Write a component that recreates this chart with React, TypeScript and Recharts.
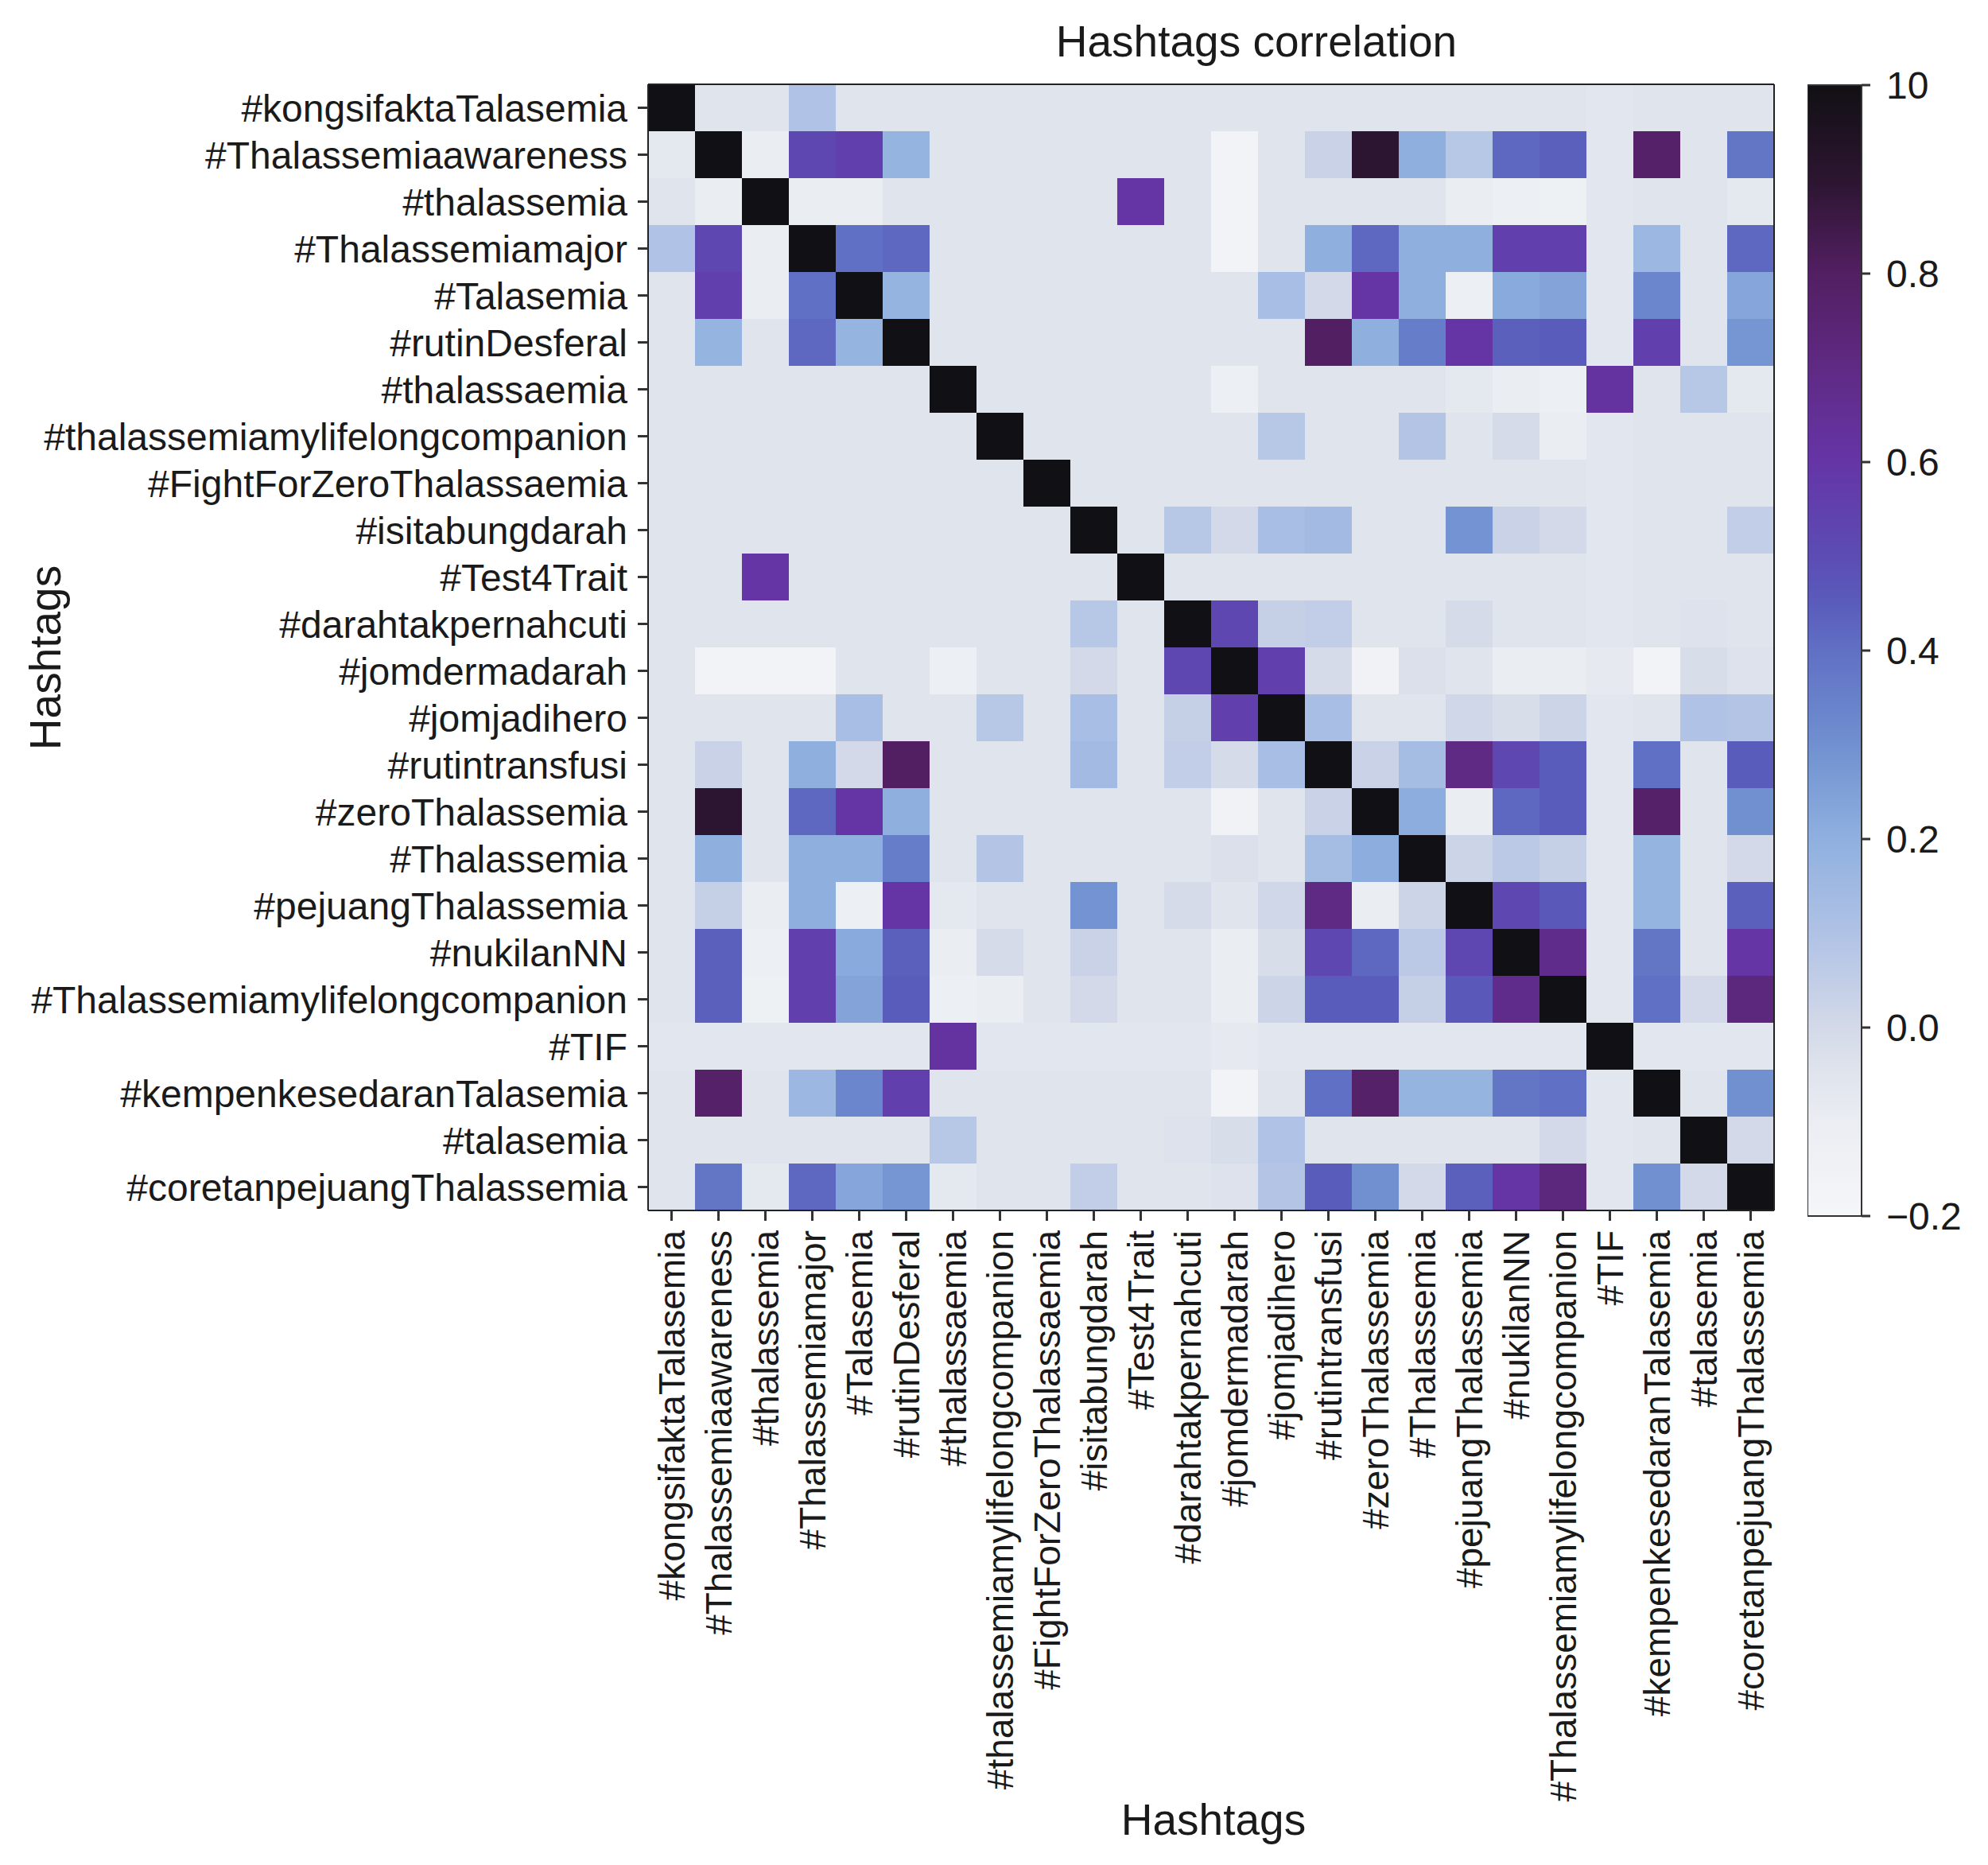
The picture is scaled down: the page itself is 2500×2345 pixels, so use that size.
import React from 'react';
import { BarChart, Bar, XAxis, YAxis, Cell } from 'recharts';

const FONT = '"Liberation Sans", Arial, Helvetica, sans-serif';
const INK = '#1a1a1a';

const hashtags = [
  '#kongsifaktaTalasemia',
  '#Thalassemiaawareness',
  '#thalassemia',
  '#Thalassemiamajor',
  '#Talasemia',
  '#rutinDesferal',
  '#thalassaemia',
  '#thalassemiamylifelongcompanion',
  '#FightForZeroThalassaemia',
  '#isitabungdarah',
  '#Test4Trait',
  '#darahtakpernahcuti',
  '#jomdermadarah',
  '#jomjadihero',
  '#rutintransfusi',
  '#zeroThalassemia',
  '#Thalassemia',
  '#pejuangThalassemia',
  '#nukilanNN',
  '#Thalassemiamylifelongcompanion',
  '#TIF',
  '#kempenkesedaranTalasemia',
  '#talasemia',
  '#coretanpejuangThalassemia',
];

// correlation values, one row per hashtag (same order as hashtags)
const corr: number[][] = [
  [1, -0.05, -0.05, 0.1, -0.05, -0.05, -0.05, -0.05, -0.05, -0.05, -0.05, -0.05, -0.05, -0.05, -0.05, -0.05, -0.05, -0.05, -0.05, -0.05, -0.06, -0.05, -0.05, -0.05],
  [-0.07, 1, -0.1, 0.52, 0.55, 0.18, -0.05, -0.05, -0.05, -0.05, -0.05, -0.05, -0.17, -0.05, 0.03, 0.9, 0.2, 0.08, 0.42, 0.44, -0.06, 0.78, -0.05, 0.38],
  [-0.05, -0.1, 1, -0.1, -0.1, -0.05, -0.05, -0.05, -0.05, -0.05, 0.6, -0.05, -0.17, -0.05, -0.05, -0.05, -0.05, -0.1, -0.12, -0.14, -0.06, -0.05, -0.05, -0.07],
  [0.1, 0.52, -0.1, 1, 0.4, 0.42, -0.05, -0.05, -0.05, -0.05, -0.05, -0.05, -0.17, -0.05, 0.2, 0.42, 0.2, 0.2, 0.55, 0.55, -0.06, 0.16, -0.05, 0.42],
  [-0.05, 0.55, -0.1, 0.4, 1, 0.18, -0.05, -0.05, -0.05, -0.05, -0.05, -0.05, -0.05, 0.12, 0.0, 0.6, 0.2, -0.12, 0.22, 0.24, -0.06, 0.33, -0.05, 0.23],
  [-0.05, 0.18, -0.05, 0.42, 0.18, 1, -0.05, -0.05, -0.05, -0.05, -0.05, -0.05, -0.05, -0.05, 0.8, 0.2, 0.36, 0.6, 0.44, 0.45, -0.06, 0.55, -0.05, 0.28],
  [-0.05, -0.05, -0.05, -0.05, -0.05, -0.05, 1, -0.05, -0.05, -0.05, -0.05, -0.05, -0.12, -0.05, -0.05, -0.05, -0.05, -0.07, -0.1, -0.12, 0.62, -0.05, 0.08, -0.07],
  [-0.05, -0.05, -0.05, -0.05, -0.05, -0.05, -0.05, 1, -0.05, -0.05, -0.05, -0.05, -0.05, 0.08, -0.05, -0.05, 0.09, -0.05, -0.01, -0.1, -0.06, -0.05, -0.05, -0.05],
  [-0.05, -0.05, -0.05, -0.05, -0.05, -0.05, -0.05, -0.05, 1, -0.05, -0.05, -0.05, -0.05, -0.05, -0.05, -0.05, -0.05, -0.05, -0.05, -0.05, -0.06, -0.05, -0.05, -0.05],
  [-0.05, -0.05, -0.05, -0.05, -0.05, -0.05, -0.05, -0.05, -0.05, 1, -0.05, 0.08, 0.0, 0.12, 0.14, -0.05, -0.05, 0.29, 0.03, 0.0, -0.06, -0.05, -0.05, 0.05],
  [-0.05, -0.05, 0.6, -0.05, -0.05, -0.05, -0.05, -0.05, -0.05, -0.05, 1, -0.05, -0.05, -0.05, -0.05, -0.05, -0.05, -0.05, -0.05, -0.05, -0.06, -0.05, -0.05, -0.05],
  [-0.05, -0.05, -0.05, -0.05, -0.05, -0.05, -0.05, -0.05, -0.05, 0.08, -0.05, 1, 0.52, 0.04, 0.05, -0.05, -0.05, -0.01, -0.05, -0.05, -0.06, -0.05, -0.04, -0.05],
  [-0.05, -0.17, -0.17, -0.17, -0.05, -0.05, -0.12, -0.05, -0.05, 0.0, -0.05, 0.52, 1, 0.55, -0.01, -0.15, -0.03, -0.05, -0.1, -0.1, -0.08, -0.17, -0.02, -0.04],
  [-0.05, -0.05, -0.05, -0.05, 0.12, -0.05, -0.05, 0.08, -0.05, 0.12, -0.05, 0.04, 0.55, 1, 0.12, -0.05, -0.05, 0.01, -0.02, 0.02, -0.06, -0.05, 0.1, 0.09],
  [-0.05, 0.03, -0.05, 0.2, 0.0, 0.8, -0.05, -0.05, -0.05, 0.14, -0.05, 0.05, -0.01, 0.12, 1, 0.03, 0.13, 0.7, 0.52, 0.45, -0.06, 0.4, -0.05, 0.45],
  [-0.05, 0.9, -0.05, 0.42, 0.6, 0.2, -0.05, -0.05, -0.05, -0.05, -0.05, -0.05, -0.15, -0.05, 0.03, 1, 0.21, -0.1, 0.42, 0.45, -0.06, 0.78, -0.05, 0.3],
  [-0.05, 0.2, -0.05, 0.2, 0.2, 0.36, -0.05, 0.09, -0.05, -0.05, -0.05, -0.05, -0.03, -0.05, 0.13, 0.21, 1, 0.02, 0.07, 0.04, -0.06, 0.18, -0.05, 0.0],
  [-0.05, 0.04, -0.1, 0.2, -0.12, 0.6, -0.07, -0.05, -0.05, 0.29, -0.05, -0.01, -0.05, 0.01, 0.7, -0.1, 0.02, 1, 0.52, 0.46, -0.06, 0.18, -0.05, 0.44],
  [-0.05, 0.44, -0.12, 0.55, 0.22, 0.44, -0.1, -0.01, -0.05, 0.03, -0.05, -0.05, -0.1, -0.02, 0.52, 0.42, 0.07, 0.52, 1, 0.68, -0.06, 0.38, -0.05, 0.6],
  [-0.05, 0.44, -0.14, 0.55, 0.24, 0.45, -0.12, -0.1, -0.05, 0.0, -0.05, -0.05, -0.1, 0.02, 0.45, 0.45, 0.04, 0.46, 0.68, 1, -0.06, 0.4, 0.0, 0.72],
  [-0.06, -0.06, -0.06, -0.06, -0.06, -0.06, 0.62, -0.06, -0.06, -0.06, -0.06, -0.06, -0.08, -0.06, -0.06, -0.06, -0.06, -0.06, -0.06, -0.06, 1, -0.06, -0.06, -0.06],
  [-0.05, 0.78, -0.05, 0.16, 0.33, 0.55, -0.05, -0.05, -0.05, -0.05, -0.05, -0.05, -0.17, -0.05, 0.4, 0.78, 0.18, 0.18, 0.38, 0.4, -0.06, 1, -0.05, 0.3],
  [-0.05, -0.05, -0.05, -0.05, -0.05, -0.05, 0.08, -0.05, -0.05, -0.05, -0.05, -0.04, -0.02, 0.1, -0.05, -0.05, -0.05, -0.05, -0.05, 0.0, -0.06, -0.05, 1, 0.0],
  [-0.05, 0.38, -0.07, 0.42, 0.23, 0.28, -0.07, -0.05, -0.05, 0.05, -0.05, -0.05, -0.04, 0.09, 0.45, 0.3, 0.0, 0.44, 0.6, 0.72, -0.06, 0.3, 0.0, 1],
];

const colorbarTicks = [-0.2, 0, 0.2, 0.4, 0.6, 0.8, 1.0];

// colour map (value -> colour), light grey through blue and purple to black
const cmap: [number, string][] = [
  [-0.2, '#f5f6f8'],
  [-0.1, '#eaedf2'],
  [-0.05, '#e0e4ed'],
  [0.0, '#d3d9e8'],
  [0.1, '#b0c2e5'],
  [0.2, '#8fb0df'],
  [0.3, '#7090d0'],
  [0.4, '#6070c4'],
  [0.45, '#5a5cbb'],
  [0.5, '#5c4cb4'],
  [0.6, '#6535a6'],
  [0.7, '#5f2a84'],
  [0.8, '#521f62'],
  [0.9, '#2c1530'],
  [1.0, '#111014'],
];

const hexRgb = (h: string) => [1, 3, 5].map((k) => parseInt(h.slice(k, k + 2), 16));

const colorFor = (v: number) => {
  if (v <= cmap[0][0]) return cmap[0][1];
  for (let k = 1; k < cmap.length; k++) {
    const [v1, c1] = cmap[k];
    if (v <= v1) {
      const [v0, c0] = cmap[k - 1];
      const t = (v - v0) / (v1 - v0);
      const a = hexRgb(c0);
      const b = hexRgb(c1);
      const rgb = a.map((x, n) => Math.round(x + (b[n] - x) * t));
      return `rgb(${rgb.join(',')})`;
    }
  }
  return cmap[cmap.length - 1][1];
};

// each hashtag row is a stack of 24 unit-wide cells
const rows = hashtags.map((name) => {
  const r: Record<string, any> = { name };
  hashtags.forEach((_, j) => (r[`c${j}`] = 1));
  return r;
});

const colTicks = hashtags.map((_, j) => j + 0.5);

const XTick = ({ x, y, payload }: any) => (
  <g transform={`translate(${x},${y})`}>
    <text
      transform="rotate(-90)"
      textAnchor="end"
      dy="0.36em"
      fontSize={46}
      fill={INK}
      fontFamily={FONT}
    >
      {hashtags[Math.floor(payload.value)]}
    </text>
  </g>
);

const fmtColorbar = (v: number) => {
  if (Math.abs(v - 1) < 1e-9) return '10';
  const s = Math.abs(v).toFixed(1);
  return v < -1e-9 ? `\u2212${s}` : s;
};

export default function App() {
  return (
    <div
      style={{
        position: 'absolute',
        left: 0,
        top: 0,
        width: 2500,
        height: 2345,
        background: '#fff',
        fontFamily: FONT,
      }}
    >
      <svg width={0} height={0} style={{ position: 'absolute' }}>
        <defs>
          <linearGradient id="cbGrad" x1="0" y1="1" x2="0" y2="0">
            {cmap.map(([v, c]) => (
              <stop key={v} offset={(v + 0.2) / 1.2} stopColor={c} />
            ))}
          </linearGradient>
        </defs>
      </svg>

      <div style={{ position: 'absolute', left: 0, top: 0 }}>
        <BarChart
          width={2262}
          height={2345}
          data={rows}
          layout="vertical"
          margin={{ top: 105, right: 30, bottom: 0, left: 0 }}
          barCategoryGap={0}
          barGap={0}
        >
          <XAxis
            type="number"
            domain={[0, 24]}
            ticks={colTicks}
            interval={0}
            height={823}
            tickSize={13}
            tickMargin={12}
            tickLine={{ stroke: '#333', strokeWidth: 3 }}
            axisLine={{ stroke: '#222', strokeWidth: 2 }}
            tick={<XTick />}
          />
          <XAxis
            xAxisId="top"
            orientation="top"
            type="number"
            domain={[0, 24]}
            height={1}
            tick={false}
            tickLine={false}
            axisLine={{ stroke: '#222', strokeWidth: 2 }}
          />
          <YAxis
            type="category"
            dataKey="name"
            width={815}
            interval={0}
            tickSize={13}
            tickMargin={13}
            tickLine={{ stroke: '#333', strokeWidth: 3 }}
            axisLine={{ stroke: '#222', strokeWidth: 2 }}
            tick={{ fontSize: 48, fill: INK, fontFamily: FONT }}
          />
          <YAxis
            yAxisId="right"
            orientation="right"
            type="category"
            dataKey="name"
            width={1}
            tick={false}
            tickLine={false}
            axisLine={{ stroke: '#222', strokeWidth: 2 }}
          />
          {hashtags.map((_, j) => (
            <Bar key={j} dataKey={`c${j}`} stackId="cells" isAnimationActive={false}>
              {corr.map((row, i) => (
                <Cell key={i} fill={colorFor(row[j])} />
              ))}
            </Bar>
          ))}
        </BarChart>
      </div>

      <div style={{ position: 'absolute', left: 2273, top: 0 }}>
        <BarChart
          width={227}
          height={1560}
          data={[{ name: 'scale', span: [-0.2, 1.0] }]}
          margin={{ top: 107, right: 0, bottom: 31, left: 0 }}
          barCategoryGap={0}
        >
          <XAxis dataKey="name" hide />
          <YAxis
            orientation="right"
            type="number"
            domain={[-0.2, 1.0]}
            ticks={colorbarTicks}
            interval={0}
            width={159}
            tickSize={11}
            tickMargin={20}
            axisLine={false}
            tickLine={{ stroke: '#333', strokeWidth: 3 }}
            tick={{ fontSize: 48, fill: INK, fontFamily: FONT }}
            tickFormatter={fmtColorbar}
          />
          <Bar
            dataKey="span"
            fill="url(#cbGrad)"
            stroke="#333"
            strokeWidth={2}
            isAnimationActive={false}
          />
        </BarChart>
      </div>

      <svg
        width={2500}
        height={2345}
        style={{ position: 'absolute', left: 0, top: 0, pointerEvents: 'none' }}
      >
        <text x={1580} y={71} textAnchor="middle" fontSize={55} fill={INK} fontFamily={FONT}>
          Hashtags correlation
        </text>
        <text x={1526} y={2307} textAnchor="middle" fontSize={55} fill={INK} fontFamily={FONT}>
          Hashtags
        </text>
        <text
          transform="translate(76,827) rotate(-90)"
          textAnchor="middle"
          fontSize={55}
          fill={INK}
          fontFamily={FONT}
        >
          Hashtags
        </text>
      </svg>
    </div>
  );
}
